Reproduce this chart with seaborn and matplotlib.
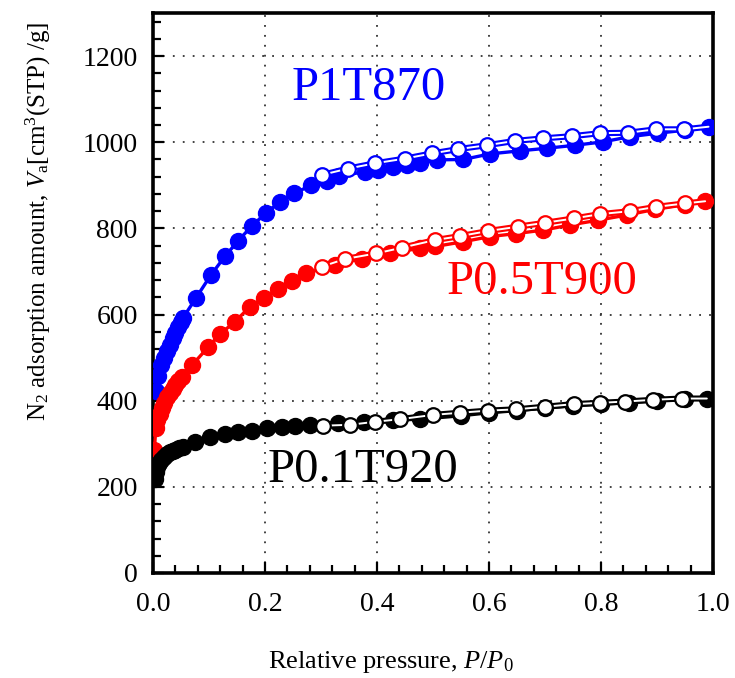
import numpy as np
import pandas as pd
import matplotlib
matplotlib.use("Agg")
import matplotlib.pyplot as plt
import seaborn as sns

# ---------------- data ----------------
# P1T870 (blue)
p1_ads_x = [0.005, 0.0095, 0.015, 0.020, 0.025, 0.030, 0.035, 0.040, 0.045, 0.050, 0.054,
            0.077, 0.103, 0.129, 0.152, 0.176, 0.201, 0.227, 0.252, 0.282, 0.310, 0.333,
            0.379, 0.402, 0.429, 0.453, 0.477, 0.507, 0.554, 0.602, 0.655, 0.703, 0.754,
            0.804, 0.852, 0.902, 0.950, 0.992]
p1_ads_y = [423, 458, 483, 500, 515, 530, 545, 558, 570, 582, 593,
            639, 691, 736, 771, 805, 835, 862, 881, 900, 911, 921,
            932, 936, 942, 947, 951, 959, 960, 973, 980, 986, 993,
            1001, 1013, 1021, 1028, 1036]
p1_des_x = [0.949, 0.898, 0.848, 0.798, 0.748, 0.697, 0.646, 0.596, 0.545, 0.498, 0.450,
            0.396, 0.349, 0.301]
p1_des_y = [1030, 1030, 1022, 1021, 1014, 1009, 1003, 993, 984, 974, 962,
            951, 939, 924]

# P0.5T900 (red)
p05_ads_x = [0.0024, 0.005, 0.008, 0.012, 0.016, 0.020, 0.025, 0.030, 0.035, 0.040, 0.045,
             0.051, 0.070, 0.099, 0.120, 0.146, 0.173, 0.199, 0.223, 0.248, 0.274, 0.325,
             0.373, 0.423, 0.477, 0.504, 0.554, 0.602, 0.649, 0.697, 0.745, 0.795, 0.846,
             0.896, 0.950, 0.986]
p05_ads_y = [285, 336, 355, 370, 383, 395, 408, 418, 428, 437, 446,
             456, 483, 525, 555, 583, 618, 638, 659, 679, 696, 715,
             730, 742, 754, 758, 769, 781, 788, 796, 808, 819, 831,
             844, 855, 863]
p05_des_x = [0.950, 0.899, 0.852, 0.798, 0.751, 0.700, 0.652, 0.599, 0.548, 0.504, 0.444,
             0.399, 0.343, 0.301]
p05_des_y = [858, 850, 840, 833, 823, 813, 804, 794, 782, 773, 755,
             742, 729, 711]

# P0.1T920 (black)
p01_ads_x = [0.004, 0.006, 0.008, 0.011, 0.015, 0.020, 0.025, 0.030, 0.035, 0.040, 0.047,
             0.054, 0.075, 0.102, 0.129, 0.152, 0.176, 0.203, 0.230, 0.254, 0.280, 0.331,
             0.376, 0.429, 0.477, 0.550, 0.600, 0.650, 0.700, 0.750, 0.800, 0.850, 0.900,
             0.950, 0.989]
p01_ads_y = [218, 235, 245, 255, 263, 270, 276, 280, 283, 286, 290,
             293, 303, 315, 322, 327, 330, 336, 340, 342, 344, 349,
             351, 355, 357, 365, 372, 377, 383, 388, 392, 395, 400,
             403, 405]
p01_des_x = [0.944, 0.893, 0.843, 0.798, 0.751, 0.700, 0.649, 0.599, 0.548, 0.500, 0.441,
             0.396, 0.352, 0.304]
p01_des_y = [405, 402, 398, 395, 392, 386, 380, 377, 372, 367, 357,
             351, 344, 342]

labels = ["P1T870", "P0.5T900", "P0.1T920"]
colors = ["#0000ff", "#ff0000", "#000000"]

x_ticks = [0.0, 0.2, 0.4, 0.6, 0.8, 1.0]
y_ticks = [0, 200, 400, 600, 800, 1000, 1200]

# ---------------- style ----------------
sns.set_theme(style="white")
plt.rcParams["font.family"] = ["Liberation Serif", "DejaVu Serif"]
plt.rcParams["mathtext.fontset"] = "custom"
plt.rcParams["mathtext.rm"] = "Liberation Serif"
plt.rcParams["mathtext.it"] = "Liberation Serif:italic"
plt.rcParams["text.color"] = "black"
plt.rcParams["axes.labelcolor"] = "black"
plt.rcParams["xtick.color"] = "black"
plt.rcParams["ytick.color"] = "black"

fig = plt.figure(figsize=(7.35, 6.78), dpi=100)
ax = fig.add_axes([153 / 735, 1 - 573 / 678, 560 / 735, 560 / 678])

series = [
    (p1_ads_x, p1_ads_y, p1_des_x, p1_des_y),
    (p05_ads_x, p05_ads_y, p05_des_x, p05_des_y),
    (p01_ads_x, p01_ads_y, p01_des_x, p01_des_y),
]

ms = 11.5
for (ax_, ay_, dx_, dy_), c in zip(series, colors):
    ads = pd.DataFrame({"x": ax_, "y": ay_})
    des = pd.DataFrame({"x": dx_, "y": dy_})
    des_line = pd.concat([ads.tail(1), des], ignore_index=True)
    # adsorption branch (filled)
    sns.lineplot(data=ads, x="x", y="y", sort=False, color=c, lw=2.4,
                 marker="o", markersize=ms, markeredgecolor=c, markerfacecolor=c,
                 markeredgewidth=1.0, ax=ax, zorder=3)
    # desorption branch (hollow line + open markers)
    sns.lineplot(data=des_line, x="x", y="y", sort=False, color=c, lw=4.4,
                 ax=ax, zorder=4)
    sns.lineplot(data=des_line, x="x", y="y", sort=False, color="white", lw=1.4,
                 ax=ax, zorder=4.1)
    sns.lineplot(data=des, x="x", y="y", sort=False, color=c, lw=0,
                 marker="o", markersize=ms - 1.0, markeredgecolor=c,
                 markerfacecolor="white", markeredgewidth=1.6, ax=ax, zorder=5)

ax.set_xlim(0, 1.0)
ax.set_ylim(0, 1300)
ax.set_xticks(x_ticks)
ax.set_xticklabels([f"{v:.1f}" for v in x_ticks])
ax.set_yticks(y_ticks)
ax.set_yticklabels([str(v) for v in y_ticks])
ax.set_xticks(np.arange(0, 1.0001, 0.04), minor=True)
ax.set_yticks(np.arange(0, 1300.1, 40), minor=True)

ax.tick_params(axis="both", which="both", direction="in", top=False, right=False,
               labelsize=20, colors="black", labelcolor="black", width=1.6)
ax.tick_params(axis="x", which="both", pad=14)
ax.tick_params(axis="y", which="both", pad=11)
ax.tick_params(axis="both", which="major", length=8, bottom=True, left=True)
ax.tick_params(axis="both", which="minor", length=6, bottom=True, left=True)

for s in ax.spines.values():
    s.set_linewidth(2.6)
    s.set_color("black")

ax.grid(True, which="major", color="#333333", linestyle=(0, (1, 4.5)), linewidth=1.3)
ax.set_axisbelow(True)

ax.set_xlabel(r"Relative pressure, $\it{P}$/$\it{P}_{\rm 0}$", fontsize=19, va="top",
              color="black")
ax.xaxis.set_label_coords(0.425, -0.135)
ax.set_ylabel(r"N$_2$ adsorption amount, $\it{V}_{\rm a}$[cm$^3$(STP) /g]", fontsize=18,
              color="black")
ax.yaxis.set_label_coords(-0.178, 0.627)

ax.text(0.248, 1126, labels[0], color=colors[0], fontsize=35, va="center", ha="left")
ax.text(0.525, 675, labels[1], color=colors[1], fontsize=35, va="center", ha="left")
ax.text(0.205, 239, labels[2], color=colors[2], fontsize=35, va="center", ha="left")

fig.savefig("out.png", dpi=100)
